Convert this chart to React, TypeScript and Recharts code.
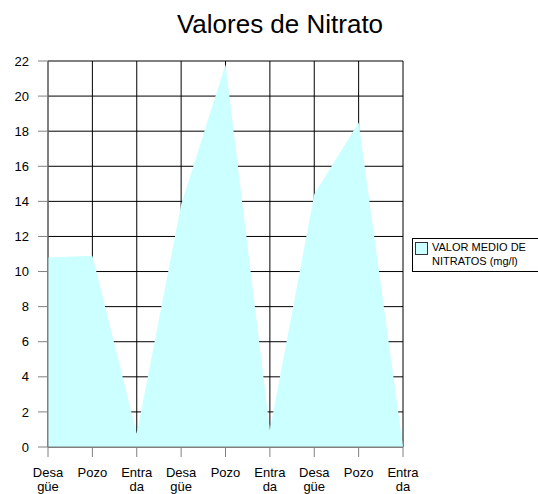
import React from "react";
import { AreaChart, Area, XAxis, YAxis, CartesianGrid } from "recharts";

const categories = ["Desagüe", "Pozo", "Entrada", "Desagüe", "Pozo", "Entrada", "Desagüe", "Pozo", "Entrada"];
const nitrateValues = [10.8, 10.9, 0.75, 13.8, 21.8, 0.95, 14.4, 18.5, 0];
const yTicks = [0, 2, 4, 6, 8, 10, 12, 14, 16, 18, 20, 22];
const tickLines: Record<string, string[]> = {
  "Desagüe": ["Desa", "güe"],
  Pozo: ["Pozo"],
  Entrada: ["Entra", "da"],
};
const seriesName = ["VALOR MEDIO DE", "NITRATOS (mg/l)"];

const data = categories.map((c, i) => ({ category: c, value: nitrateValues[i] }));

const FONT = "'Liberation Sans', Arial, sans-serif";

const XTick = (props: any) => {
  const { x, y, payload } = props;
  const lines = tickLines[payload.value] || [payload.value];
  return (
    <text x={x} y={y} textAnchor="middle" fontSize={13} fontFamily={FONT} fill="#000">
      {lines.map((l, i) => (
        <tspan key={i} x={x} dy={i === 0 ? 20 : 14}>
          {l}
        </tspan>
      ))}
    </text>
  );
};

// legend box drawn by hand, to the right of the plot
const LegendBox = () => (
  <div
    style={{
      position: "absolute",
      left: 412,
      top: 238,
      width: 130,
      height: 32,
      border: "1px solid #000",
      background: "#fff",
      fontFamily: FONT,
      fontSize: 11,
      lineHeight: "14px",
      color: "#000",
    }}
  >
    <div
      style={{
        position: "absolute",
        left: 2,
        top: 3,
        width: 11,
        height: 11,
        background: "#ccffff",
        border: "1px solid #333",
      }}
    />
    <div style={{ position: "absolute", left: 19, top: 1, whiteSpace: "nowrap" }}>
      {seriesName[0]}
      <br />
      {seriesName[1]}
    </div>
  </div>
);

export default function App() {
  return (
    <div
      style={{
        position: "absolute",
        left: 0,
        top: 0,
        width: 538,
        height: 494,
        overflow: "hidden",
        background: "#fff",
      }}
    >
      <svg width={538} height={50} style={{ position: "absolute", left: 0, top: 0 }}>
        <text x={280} y={33} textAnchor="middle" fontSize={26} fontFamily={FONT} fill="#000">
          Valores de Nitrato
        </text>
      </svg>
      <div style={{ position: "absolute", left: 0, top: 0 }}>
        <AreaChart width={538} height={494} data={data} margin={{ top: 61, right: 135, bottom: 0, left: 0 }}>
          <CartesianGrid stroke="#000" strokeWidth={1} />
          <XAxis
            dataKey="category"
            height={47}
            stroke="#808080"
            tickSize={10}
            tickMargin={0}
            tick={<XTick />}
            interval={0}
          />
          <YAxis
            width={48}
            domain={[0, 22]}
            ticks={yTicks}
            stroke="#808080"
            tickSize={10}
            tickMargin={9}
            tick={{ fill: "#000", fontSize: 13, fontFamily: FONT }}
            interval={0}
          />
          <Area
            type="linear"
            dataKey="value"
            name={seriesName.join(" ")}
            stroke="none"
            fill="#ccffff"
            fillOpacity={1}
            isAnimationActive={false}
          />
        </AreaChart>
      </div>
      <LegendBox />
    </div>
  );
}
